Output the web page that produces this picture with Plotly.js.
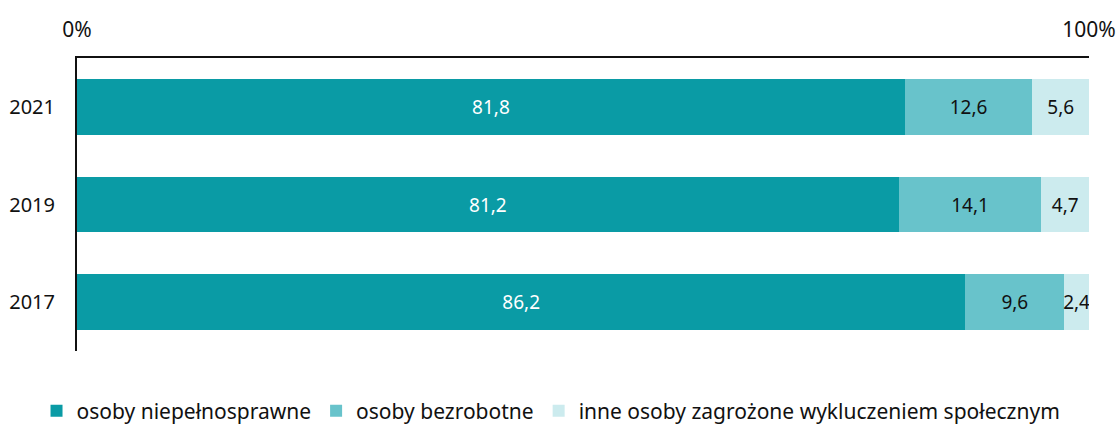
<!DOCTYPE html>
<html>
<head>
<meta charset="utf-8">
<script src="https://cdn.plot.ly/plotly-3.0.1.min.js"></script>
<style>html,body{margin:0;padding:0;background:#fff;}#chart{width:1119px;height:424px;}</style>
</head>
<body>
<div id="chart"></div>
<script>
const years = ['2017', '2019', '2021'];
const niepelnosprawne = [86.2, 81.2, 81.8];
const bezrobotne = [9.6, 14.1, 12.6];
const inne = [2.4, 4.7, 5.6];
const seriesNames = ['osoby niepełnosprawne', 'osoby bezrobotne', 'inne osoby zagrożone wykluczeniem społecznym'];
const xTickVals = [0, 100];
const xTickText = ['0%', '100%'];

const colors = ['#0A9BA5', '#68C3CB', '#CCEBEE'];
const textColors = ['#ffffff', '#111111', '#111111'];
const FONT = 'Noto Sans, sans-serif';
const fmt = v => v.toFixed(1).replace('.', ',');

const data = [niepelnosprawne, bezrobotne, inne].map((vals, i) => ({
  type: 'bar',
  orientation: 'h',
  y: years,
  x: vals,
  name: seriesNames[i],
  marker: {color: colors[i], line: {width: 0}},
  text: vals.map(fmt),
  textposition: 'inside',
  insidetextanchor: 'middle',
  textangle: 0,
  constraintext: 'none',
  textfont: {family: FONT, size: 19, color: textColors[i]},
  hoverinfo: 'none'
}));

const layout = {
  width: 1119,
  height: 424,
  margin: {l: 77, r: 30, t: 58, b: 73, autoexpand: false},
  barmode: 'stack',
  barnorm: 'percent',
  bargap: 0.43,
  paper_bgcolor: '#ffffff',
  plot_bgcolor: '#ffffff',
  font: {family: FONT, size: 20, color: '#111111'},
  xaxis: {
    side: 'top',
    range: [0, 100],
    tickvals: xTickVals,
    ticktext: xTickText,
    showgrid: false,
    zeroline: false,
    showline: true,
    linecolor: '#111111',
    linewidth: 2,
    ticks: 'outside',
    ticklen: 11,
    tickcolor: 'rgba(0,0,0,0)',
    tickfont: {family: FONT, size: 21, color: '#111111'},
    automargin: false,
    fixedrange: true
  },
  yaxis: {
    type: 'category',
    categoryorder: 'array',
    categoryarray: years,
    range: [-0.5, 2.5],
    showgrid: false,
    zeroline: false,
    showline: true,
    linecolor: '#111111',
    linewidth: 2,
    ticks: 'outside',
    ticklen: 16,
    tickcolor: 'rgba(0,0,0,0)',
    tickfont: {family: FONT, size: 20, color: '#111111'},
    automargin: false,
    fixedrange: true
  },
  showlegend: true,
  legend: {
    orientation: 'h',
    x: -0.04,
    xanchor: 'left',
    y: -0.135,
    yanchor: 'top',
    font: {family: FONT, size: 21, color: '#111111'},
    itemwidth: 30,
    tracegroupgap: 0,
    traceorder: 'normal'
  }
};

Plotly.newPlot('chart', data, layout, {displayModeBar: false, staticPlot: true});
</script>
</body>
</html>
